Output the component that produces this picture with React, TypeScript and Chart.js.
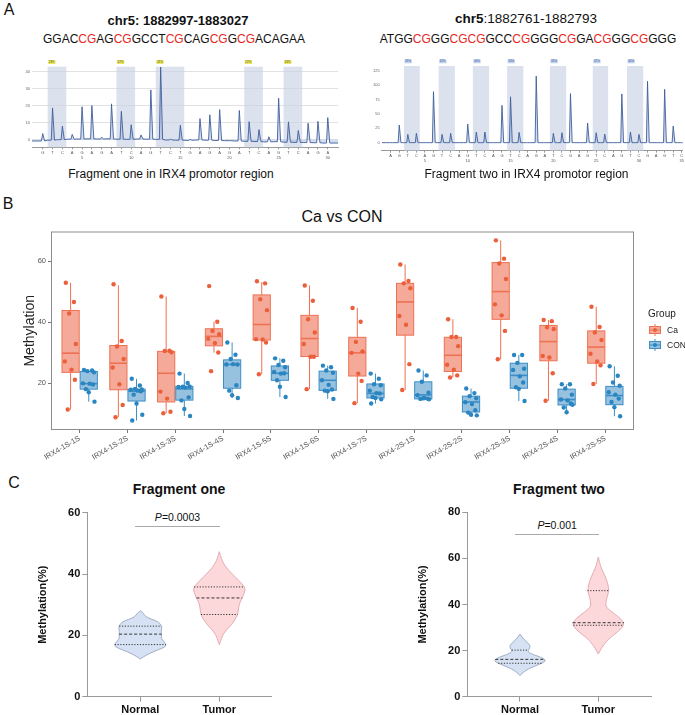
import React, { useEffect, useRef } from "react";
import { Chart, registerables } from "chart.js";
Chart.register(...registerables);

const FONT = "'Liberation Sans', Arial, Helvetica, sans-serif";
Chart.defaults.font.family = FONT;

// ---------------- Panel A data ----------------
const seq1Parts: [string, number][] = [["GGAC",0],["CG",1],["AG",0],["CG",1],["GCCT",0],["CG",1],["CAG",0],["CG",1],["G",0],["CG",1],["ACAGAA",0]];
const seq2Parts: [string, number][] = [["ATGG",0],["CG",1],["GG",0],["CG",1],["CG",1],["GCC",0],["CG",1],["GGG",0],["CG",1],["GA",0],["CG",1],["GG",0],["CG",1],["GGG",0]];

const frag1Disp = ["G","T","C","A","G","A","G","A","T","C","A","G","T","C","T","G","A","G","A","G","A","T","C","A","G","T","C","A","G","A"];
const frag1Peaks = [4.4,19,8,2.8,19,19.6,1,20.6,16.4,8.6,2.4,29,42.6,0.5,8.8,0.5,12.6,15,18.2,0,18,11.6,7,3,25.6,12,7,11.4,12.6,15];
const frag1Base = [-0.8,-0.3,0,0.3,0.4,0.5,0.4,0.5,0.3,0.2,0.4,0.3,0.2,-0.2,-0.3,-0.4,-0.2,-0.3,-0.5,-0.6,-0.8,-1.0,-1.1,-1.3,-1.2,-1.5,-1.6,-1.7,-1.8,-2.0];
const frag1CpG: [number, number][] = [[1.5,3.4],[8.5,10.4],[12.5,15.4],[21.5,23.4],[25.5,27.4]];
const frag1CpGLabels = ["23%","22%","47%","22%","23%"];
const frag1YTicks = [0,10,20,30,40];

const frag2Disp = ["A","G","T","C","A","G","T","C","A","G","T","C","A","G","T","C","A","G","A","T","C","G","A","G","T","C","A","G","T","C","G","A","G","T","C"];
const frag2Peaks = [0,30.8,14.5,16.3,0,89,14.5,16.3,0,32.6,18.6,18.6,0,65,80,18,0,116,0,16.3,17.4,85.5,0,34.3,17.4,15,0,85,18.6,14.5,107,0,93,29,0];
const frag2Base = frag2Peaks.map(() => 0);
const frag2CpG: [number, number][] = [[2.55,4.4],[6.6,8.5],[10.6,12.5],[14.6,16.5],[19.6,21.5],[24.6,26.4],[28.6,30.5]];
const frag2CpGLabels = ["33%","32%","40%","33%","33%","47%","40%"];
const frag2YTicks = [0,25,50,75,100,125];

// ---------------- Panel B data ----------------
const groups = ["IRX4-1S-1S","IRX4-1S-2S","IRX4-1S-3S","IRX4-1S-4S","IRX4-1S-5S","IRX4-1S-6S","IRX4-1S-7S","IRX4-2S-1S","IRX4-2S-2S","IRX4-2S-3S","IRX4-2S-4S","IRX4-2S-5S"];
// box stats: [min, q1, median, q3, max]
const caBox = [
  [11.4,23.6,29.9,43.9,53],[8.9,17.9,26.6,32.4,52.2],[10.2,13.9,23.3,30.5,48.5],[30.1,32.3,35.4,37.9,40.2],
  [23,34.2,39.3,49,53.2],[18.1,28.8,34.7,42.3,52.1],[13.5,22.4,30,35.1,44.7],[17.8,35.8,46.7,52.8,59],
  [21.9,23.9,29.2,35.1,41],[27.9,41,50.1,59.6,66.9],[14.3,27.4,33.7,39,40.8],[19.8,26.6,31.9,37.2,45.1]];
const conBox = [
  [14,18.1,19.9,23.9,24.5],[7.8,14.2,17.4,18.1,21.5],[9.3,14.5,18.2,19,23.2],[15.2,18.4,26.2,27.7,33.4],
  [15.5,21,23.3,25.7,28.2],[14.9,17.7,21,24,25.8],[13.4,15.2,16.7,19.8,23.2],[14.9,14.9,16.2,20.5,24.2],
  [9.5,10.6,13.9,15.8,18.3],[14.2,18.4,22.6,26.6,29.3],[10.5,12.9,14.7,18.1,19.7],[9.2,13,16,19,25.6]];
const caPoints = [
  [53,46.7,42.9,32.9,27.2,24.5,21.2,11.4],[52.5,33.9,32.1,28,25.2,19.7,12.9,8.9],
  [48.5,30.7,30.6,30.2,17.3,15,10.7,10.2],[51.9,40.2,37.2,36.1,34.6,33.2,30.1,24],
  [53.5,52.8,47.6,44,34.5,34.4,33.4,23],[52.1,47.1,41,36.7,32.9,28.7,28.7,18.1],
  [44.7,40.2,33.6,30.5,30,23.2,20.8,13.5],[59,53.6,52.8,51.2,42.1,39.2,26.3,17.8],
  [41,35.2,35.2,32.2,26.1,24.5,22.6,21.9],[66.9,60.9,59.3,54.2,45.9,42.3,37.2,27.9],
  [40.8,40.4,38.4,37.8,29,28.5,23.3,14.3],[45.1,38.5,36.7,34.2,29.7,27.2,25.9,19.8]];
const conPoints = [
  [24.4,24.2,24.0,23.6,20.0,19.9,19.6,18.1,17.1,14.0],
  [21.5,19.3,18.2,18.0,17.9,17.6,17.4,16.3,13.4,9.7,7.8],
  [23.2,20.1,18.9,19.0,18.8,18.6,15.4,14.4,11.6,9.3],
  [33.4,29.4,28,26.2,26.2,26.3,19.4,17.6,16.1,15.2],
  [28.2,27.4,26,25.3,23.7,23.2,23.3,21,18.9,15.5],
  [25.8,25.3,24.2,23.5,21,19.5,18,17.6,17.4,14.9],
  [23.2,21.5,19.7,19.4,17.6,16.8,16.7,15.5,15.2,14.8,13.4],
  [24.2,22.6,20.5,16.9,16.1,15.2,15.0,14.9,15.1,14.8],
  [18.3,16.8,15.8,15.1,13.8,13.2,11.2,10.4,9.7,9.5],
  [29.3,29.3,26.7,24.8,24.4,22.3,20.3,18.7,18.2,14.2],
  [19.7,19.7,18.3,16.3,14.7,14.4,13.4,12.1,10.5,13.0],
  [25.6,22.5,20.3,19.2,17.1,16.3,15,13.9,12.2,9.2]];
const bYTicks = [20,40,60];
const jitter = [-0.1,0.07,-0.03,0.11,-0.12,0.02,0.09,-0.06,0.0,0.12,-0.09];

// ---------------- Panel C data ----------------
const cCats = ["Normal","Tumor"];
const f1NormalY = [28.0,27.2,26.1,25.2,24.5,23.4,22.3,21.2,20.1,19.0,17.9,16.8,16.1,15.2,14.1,13.0,12.3];
const f1NormalD = [0,0.12,0.2,0.45,0.68,0.8,0.83,0.8,0.82,0.8,0.92,1,0.93,0.66,0.35,0.12,0];
const f1NormalQ = [17.0,20.4,23.0];
const f1TumorY = [47.3,45,43,41,39,37,35.5,34,32.5,31,29,27,25,23,21,19,17];
const f1TumorD = [0,0.08,0.19,0.38,0.62,0.85,1,0.97,0.9,0.8,0.74,0.72,0.6,0.42,0.19,0.08,0];
const f1TumorQ = [26.8,32.2,35.8];
const f2NormalY = [27.2,24.6,22.6,21.1,19.6,18.3,17.1,15.9,14.9,13.5,12,10.5,9.2];
const f2NormalD = [0,0.16,0.39,0.39,0.27,0.5,0.82,1,0.93,0.62,0.31,0.12,0];
const f2NormalQ = [14.5,16.2,20.2];
const f2TumorY = [60.6,56.8,54,50,46,43,39.5,38,36,34,32,30,28,26,24,21,18.5];
const f2TumorD = [0,0.08,0.19,0.35,0.42,0.33,0.27,0.39,0.62,0.85,1,0.93,0.74,0.5,0.31,0.12,0];
const f2TumorQ = [31.0,32.1,46.0];

// ---------------- helpers ----------------
function ChartCanvas({ x, y, w, h, make }: any) {
  const ref = useRef<HTMLCanvasElement>(null);
  useEffect(() => {
    const c = new Chart(ref.current as HTMLCanvasElement, make());
    return () => c.destroy();
  }, []);
  return <canvas ref={ref} width={w} height={h} style={{ position: "absolute", left: x, top: y, width: w, height: h }} />;
}

const Txt = ({ x, y, size, weight = "normal", color = "#111", style, children }: any) => (
  <div style={{ position: "absolute", left: x, top: y, transform: "translate(-50%,-50%)", fontSize: size, fontWeight: weight, color, whiteSpace: "nowrap", fontFamily: FONT, lineHeight: 1, ...style }}>{children}</div>
);

const Seq = ({ parts }: { parts: [string, number][] }) => (
  <>{parts.map((p, i) => <span key={i} style={{ color: p[1] ? "#e8261e" : "#111" }}>{p[0]}</span>)}</>
);

function buildTrace(peaks: number[], base: number[], xMin: number, xMax: number) {
  const pts: { x: number; y: number }[] = [{ x: xMin, y: base[0] }];
  peaks.forEach((h, i) => {
    const p = i + 1, b = base[i];
    pts.push({ x: p - 0.5, y: b }, { x: p - 0.13, y: b }, { x: p, y: b + h }, { x: p + 0.2, y: b });
  });
  pts.push({ x: xMax, y: base[base.length - 1] });
  return pts;
}

function pyroConfig(o: any) {
  const bands = {
    id: "bands",
    beforeDatasetsDraw(chart: any) {
      const { ctx, chartArea: ca, scales: { x } } = chart;
      ctx.save();
      ctx.fillStyle = "rgba(200,211,229,0.65)";
      o.regions.forEach(([a, b]: number[]) => {
        const x0 = x.getPixelForValue(a), x1 = x.getPixelForValue(b);
        ctx.fillRect(x0, ca.top, x1 - x0, ca.bottom - ca.top);
      });
      ctx.restore();
    },
    afterDraw(chart: any) {
      const { ctx, chartArea: ca, scales: { x } } = chart;
      ctx.save();
      o.regions.forEach(([a]: number[], i: number) => {
        const x0 = x.getPixelForValue(a) + 0.5;
        ctx.fillStyle = o.labelFill;
        ctx.fillRect(x0, ca.top - 6.7, 7.3, 4);
        ctx.fillStyle = o.labelInk;
        ctx.font = `3px ${FONT}`;
        ctx.textAlign = "center";
        ctx.textBaseline = "middle";
        ctx.fillText(o.labels[i], x0 + 3.65, ca.top - 4.7);
      });
      ctx.restore();
    },
  };
  return {
    type: "line",
    data: {
      datasets: [{
        data: buildTrace(o.peaks, o.base, o.xMin, o.xMax),
        borderColor: "#3f5f9c", borderWidth: 0.9, pointRadius: 0, tension: 0,
        fill: "origin", backgroundColor: "rgba(120,150,205,0.32)",
      }],
    },
    options: {
      responsive: false, animation: false, events: [],
      layout: { padding: { left: 0, right: o.padRight, top: o.padTop, bottom: 0 } },
      plugins: { legend: { display: false }, tooltip: { enabled: false } },
      scales: {
        x: {
          type: "linear", min: o.xMin, max: o.xMax, bounds: "data",
          afterBuildTicks: (s: any) => { s.ticks = o.disp.map((_: any, i: number) => ({ value: i + 1 })); },
          ticks: {
            autoSkip: false, maxRotation: 0, font: { size: 4 }, color: "#555", padding: 1,
            callback: (v: number) => { const i = Math.round(v); return [o.disp[i - 1], i % 5 === 0 ? String(i) : ""]; },
          },
          grid: { drawOnChartArea: false, tickLength: 2, color: "#999" },
          border: { color: "#999" },
          afterFit: (s: any) => { s.height = o.xH; },
        },
        y: {
          min: o.yMin, max: o.yMax, bounds: "data",
          afterBuildTicks: (s: any) => { s.ticks = o.yTicks.map((v: number) => ({ value: v })); },
          ticks: { font: { size: 4 }, color: "#666", padding: 2 },
          grid: { color: o.grid ? "#e2e2e2" : "rgba(0,0,0,0)", drawTicks: false },
          border: { display: false },
          afterFit: (s: any) => { s.width = o.yW; },
        },
      },
    },
    plugins: [bands],
  };
}

const BOX_HW = 0.18, DODGE = 0.19;
const CA_LINE = "#ee7152", CA_FILL = "rgba(236,100,70,0.55)", CA_PT = "#eb5f3a";
const CON_LINE = "#3b8ec6", CON_FILL = "rgba(45,134,192,0.5)", CON_PT = "#2a85c1";

function boxConfig() {
  const drawBox = (ctx: any, x: any, y: any, cx: number, st: number[], line: string, fill: string) => {
    const xl = x.getPixelForValue(cx - BOX_HW), xr = x.getPixelForValue(cx + BOX_HW), xc = x.getPixelForValue(cx);
    const [mn, q1, md, q3, mx] = st.map((v) => y.getPixelForValue(v));
    ctx.strokeStyle = line; ctx.lineWidth = 1;
    ctx.beginPath(); ctx.moveTo(xc, q3); ctx.lineTo(xc, mx); ctx.moveTo(xc, q1); ctx.lineTo(xc, mn); ctx.stroke();
    ctx.fillStyle = fill; ctx.fillRect(xl, q3, xr - xl, q1 - q3);
    ctx.strokeRect(xl, q3, xr - xl, q1 - q3);
    ctx.lineWidth = 1.6; ctx.beginPath(); ctx.moveTo(xl, md); ctx.lineTo(xr, md); ctx.stroke();
  };
  const boxes = {
    id: "boxes",
    beforeDatasetsDraw(chart: any) {
      const { ctx, scales: { x, y } } = chart;
      ctx.save();
      groups.forEach((_, g) => {
        drawBox(ctx, x, y, g + 1 - DODGE, caBox[g], CA_LINE, CA_FILL);
        drawBox(ctx, x, y, g + 1 + DODGE, conBox[g], CON_LINE, CON_FILL);
      });
      ctx.restore();
    },
    afterDraw(chart: any) {
      const { ctx, chartArea: ca } = chart;
      ctx.save();
      ctx.strokeStyle = "#8c8c8c"; ctx.lineWidth = 1;
      ctx.strokeRect(ca.left + 0.5, ca.top + 0.5, ca.right - ca.left - 1, ca.bottom - ca.top - 1);
      // legend
      const lx = ca.right + 15;
      ctx.fillStyle = "#222"; ctx.font = `10px ${FONT}`; ctx.textBaseline = "middle"; ctx.textAlign = "left";
      ctx.fillText("Group", lx - 1, ca.top + 83);
      const keys = [["Ca", CA_LINE, CA_FILL, CA_PT], ["CON", CON_LINE, CON_FILL, CON_PT]];
      keys.forEach((k, i) => {
        const cy = ca.top + 98.5 + i * 15;
        const cx = lx + 6;
        ctx.strokeStyle = k[1]; ctx.lineWidth = 1;
        ctx.beginPath(); ctx.moveTo(cx, cy - 6); ctx.lineTo(cx, cy + 6); ctx.stroke();
        ctx.fillStyle = "#fff"; ctx.fillRect(lx, cy - 3.5, 12, 7);
        ctx.fillStyle = k[2]; ctx.fillRect(lx, cy - 3.5, 12, 7);
        ctx.strokeRect(lx + 0.5, cy - 3.5, 11, 7);
        ctx.beginPath(); ctx.moveTo(lx, cy); ctx.lineTo(lx + 12, cy); ctx.stroke();
        ctx.fillStyle = k[3]; ctx.beginPath(); ctx.arc(cx, cy, 2, 0, Math.PI * 2); ctx.fill();
        ctx.fillStyle = "#222"; ctx.font = `8.5px ${FONT}`;
        ctx.fillText(k[0], lx + 18, cy + 0.5);
      });
      ctx.restore();
    },
  };
  const pts = (arr: number[][], off: number) =>
    arr.flatMap((vals, g) => vals.map((v, k) => ({ x: g + 1 + off + jitter[k % jitter.length], y: v })));
  return {
    type: "scatter",
    data: {
      datasets: [
        { data: pts(caPoints, -DODGE), backgroundColor: CA_PT, pointRadius: 2.2, pointBorderWidth: 0 },
        { data: pts(conPoints, DODGE), backgroundColor: CON_PT, pointRadius: 2.2, pointBorderWidth: 0 },
      ],
    },
    options: {
      responsive: false, animation: false, events: [],
      layout: { padding: { left: 0, right: 51, top: 6, bottom: 0 } },
      plugins: { legend: { display: false }, tooltip: { enabled: false } },
      scales: {
        x: {
          type: "linear", min: 0.4, max: 12.6, bounds: "data",
          afterBuildTicks: (s: any) => { s.ticks = groups.map((_, i) => ({ value: i + 1 })); },
          ticks: { autoSkip: false, minRotation: 30, maxRotation: 30, font: { size: 7.5 }, color: "#555", padding: 1,
            callback: (v: number) => groups[Math.round(v) - 1] },
          grid: { drawOnChartArea: false, tickLength: 3, color: "#777" },
          border: { display: false },
          afterFit: (s: any) => { s.height = 35; },
        },
        y: {
          min: 4.7, max: 69.8, bounds: "data",
          afterBuildTicks: (s: any) => { s.ticks = bYTicks.map((v) => ({ value: v })); },
          ticks: { font: { size: 7.5 }, color: "#555", padding: 2 },
          grid: { drawOnChartArea: false, tickLength: 3, color: "#777" },
          border: { display: false },
          title: { display: true, text: "Methylation", font: { size: 14 }, color: "#222", padding: { top: 21.6, bottom: 0 } },
          afterFit: (s: any) => { s.width = 51; },
        },
      },
    },
    plugins: [boxes],
  };
}

function densAt(ys: number[], ds: number[], q: number) {
  for (let i = 0; i < ys.length - 1; i++) {
    if (q <= ys[i] && q >= ys[i + 1]) {
      const t = (ys[i] - q) / (ys[i] - ys[i + 1]);
      return ds[i] + t * (ds[i + 1] - ds[i]);
    }
  }
  return 0;
}

function violinConfig(o: any) {
  const vPlugin = {
    id: "violins",
    afterDatasetsDraw(chart: any) {
      const { ctx, scales: { x, y } } = chart;
      ctx.save();
      o.violins.forEach((v: any) => {
        const cx = x.getPixelForValue(v.pos);
        const unit = x.getPixelForValue(v.pos + o.half) - cx;
        const right = v.ys.map((val: number, i: number) => [cx + v.ds[i] * unit, y.getPixelForValue(val)]);
        const left = v.ys.map((val: number, i: number) => [cx - v.ds[i] * unit, y.getPixelForValue(val)]).reverse();
        const all = right.concat(left);
        const n = all.length;
        const mid = (a: number[], b: number[]) => [(a[0] + b[0]) / 2, (a[1] + b[1]) / 2];
        ctx.beginPath();
        const m0 = mid(all[n - 1], all[0]);
        ctx.moveTo(m0[0], m0[1]);
        for (let i = 0; i < n; i++) {
          const p = all[i], m = mid(all[i], all[(i + 1) % n]);
          ctx.quadraticCurveTo(p[0], p[1], m[0], m[1]);
        }
        ctx.closePath();
        ctx.fillStyle = v.fill; ctx.fill();
        ctx.strokeStyle = v.stroke; ctx.lineWidth = 0.8; ctx.stroke();
        v.q.forEach((q: number, qi: number) => {
          const w = densAt(v.ys, v.ds, q) * unit;
          const py = y.getPixelForValue(q);
          ctx.setLineDash(qi === 1 ? [3, 2] : [1.2, 1.6]);
          ctx.strokeStyle = "#333"; ctx.lineWidth = 1;
          ctx.beginPath(); ctx.moveTo(cx - w, py); ctx.lineTo(cx + w, py); ctx.stroke();
        });
        ctx.setLineDash([]);
      });
      ctx.restore();
    },
  };
  return {
    type: "scatter",
    data: { datasets: [] },
    options: {
      responsive: false, animation: false, events: [],
      layout: { padding: { left: 0, right: 13.3, top: o.padTop, bottom: 0 } },
      plugins: { legend: { display: false }, tooltip: { enabled: false } },
      scales: {
        x: {
          type: "linear", min: o.xMin, max: o.xMax, bounds: "data",
          afterBuildTicks: (s: any) => { s.ticks = cCats.map((_, i) => ({ value: i + 1 })); },
          ticks: { autoSkip: false, maxRotation: 0, font: { size: 11, weight: "bold" }, color: "#111", padding: 2,
            callback: (v: number) => cCats[Math.round(v) - 1] },
          grid: { drawOnChartArea: false, tickLength: 5, color: "#9a9a9a" },
          border: { color: "#9a9a9a" },
          afterFit: (s: any) => { s.height = 18.3; },
        },
        y: {
          min: 0, max: o.yMax, bounds: "data",
          afterBuildTicks: (s: any) => { s.ticks = o.yTicks.map((v: number) => ({ value: v })); },
          ticks: { font: { size: 11, weight: "bold" }, color: "#111", padding: 2 },
          grid: { drawOnChartArea: false, tickLength: 5, color: "#9a9a9a" },
          border: { color: "#9a9a9a" },
          title: { display: true, text: "Methylation(%)", font: { size: 11, weight: "bold" }, color: "#111", padding: { top: o.titlePad, bottom: 0 } },
          afterFit: (s: any) => { s.width = 67.3; },
        },
      },
    },
    plugins: [vPlugin],
  };
}

const N_FILL = "#d6e2f3", N_STROKE = "#8e9dba", T_FILL = "#fcd8db", T_STROKE = "#dc9ca4";

export default function App() {
  return (
    <div style={{ position: "absolute", left: 0, top: 0, width: 685, height: 715, background: "#fff", overflow: "hidden", fontFamily: FONT }}>
      <Txt x={9} y={10} size={16}>A</Txt>
      <Txt x={178} y={20} size={13} weight="bold">chr5: 1882997-1883027</Txt>
      <Txt x={174} y={38.5} size={12}><Seq parts={seq1Parts} /></Txt>
      <Txt x={526} y={18.5} size={13.5}><b>chr5</b>:1882761-1882793</Txt>
      <Txt x={528} y={39.3} size={12}><Seq parts={seq2Parts} /></Txt>

      <ChartCanvas x={20} y={55} w={325} h={110} make={() => pyroConfig({
        peaks: frag1Peaks, base: frag1Base, disp: frag1Disp, regions: frag1CpG, labels: frag1CpGLabels,
        labelFill: "#ece85a", labelInk: "#555", xMin: -0.09, xMax: 31.04, yMin: -4.5, yMax: 43, yTicks: frag1YTicks,
        yW: 12, xH: 17.7, padTop: 11.7, padRight: 7, grid: true })} />
      <ChartCanvas x={365} y={55} w={320} h={113} make={() => pyroConfig({
        peaks: frag2Peaks, base: frag2Base, disp: frag2Disp, regions: frag2CpG, labels: frag2CpGLabels,
        labelFill: "#c3d3ee", labelInk: "#3a5a9a", xMin: -0.05, xMax: 35.1, yMin: -14, yMax: 133.7, yTicks: frag2YTicks,
        yW: 16.7, xH: 17.3, padTop: 11, padRight: 2, grid: false })} />

      <Txt x={171} y={173.5} size={12}>Fragment one in IRX4 promotor region</Txt>
      <Txt x={526.5} y={173.5} size={12}>Fragment two in IRX4 promotor region</Txt>

      <Txt x={8} y={204} size={16}>B</Txt>
      <Txt x={342} y={217} size={16}>Ca vs CON</Txt>
      <ChartCanvas x={0} y={225} w={685} h={240} make={boxConfig} />

      <Txt x={14} y={483} size={16}>C</Txt>
      <Txt x={179} y={489.3} size={14} weight="bold">Fragment one</Txt>
      <Txt x={559} y={489.3} size={14} weight="bold">Fragment two</Txt>
      <Txt x={177.5} y={517} size={10.5}><i>P</i>=0.0003</Txt>
      <div style={{ position: "absolute", left: 135, top: 526, width: 85, height: 0, borderTop: "1px solid #aaa" }} />
      <Txt x={557.2} y={525} size={10.5}><i>P</i>=0.001</Txt>
      <div style={{ position: "absolute", left: 515, top: 534, width: 84, height: 0, borderTop: "1px solid #aaa" }} />

      <ChartCanvas x={20} y={500} w={265} h={215} make={() => violinConfig({
        xMin: 0.329, xMax: 2.663, yMax: 60, yTicks: [0, 20, 40, 60], padTop: 12.7, titlePad: 16.4, half: 0.329,
        violins: [
          { pos: 1, ys: f1NormalY, ds: f1NormalD, q: f1NormalQ, fill: N_FILL, stroke: N_STROKE },
          { pos: 2, ys: f1TumorY, ds: f1TumorD, q: f1TumorQ, fill: T_FILL, stroke: T_STROKE },
        ] })} />
      <ChartCanvas x={400} y={500} w={265} h={215} make={() => violinConfig({
        xMin: 0.327, xMax: 2.682, yMax: 80, yTicks: [0, 20, 40, 60, 80], padTop: 12.3, titlePad: 16.7, half: 0.33,
        violins: [
          { pos: 1, ys: f2NormalY, ds: f2NormalD, q: f2NormalQ, fill: N_FILL, stroke: N_STROKE },
          { pos: 2, ys: f2TumorY, ds: f2TumorD, q: f2TumorQ, fill: T_FILL, stroke: T_STROKE },
        ] })} />
    </div>
  );
}
